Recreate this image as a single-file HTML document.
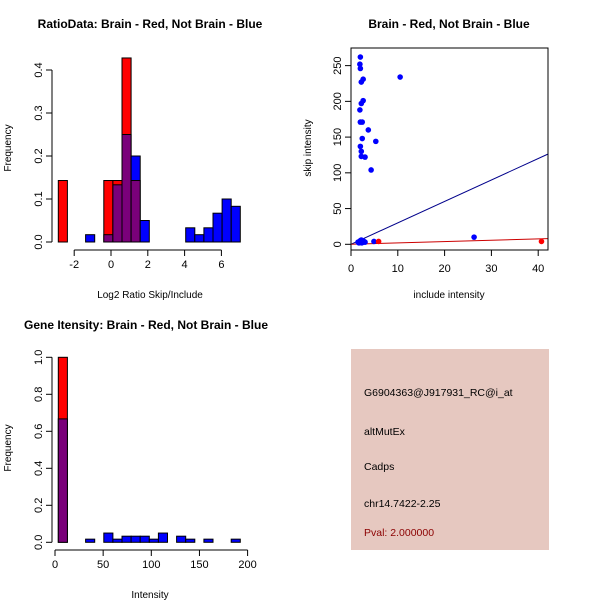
<!DOCTYPE html>
<html><head><meta charset="utf-8"><style>
body{margin:0;background:#fff;}
svg{display:block;font-family:"Liberation Sans",sans-serif;}
</style></head><body>
<svg id="c" width="600" height="600" xmlns="http://www.w3.org/2000/svg">
<rect width="600" height="600" fill="#fff"/>
</svg>
<script>
// ---- Panel 1: ratio histogram (bin index -> frequency)
const ratioBins = [0,1,2,3,4,5,6,7,8,9,10,11,12,13,14,15,16,17,18,19];
const ratioRed  = [0.143,0,0,0,0,0.143,0.143,0.428,0.143,0,0,0,0,0,0,0,0,0,0,0];
const ratioBlue = [0,0,0,0.017,0,0.017,0.133,0.25,0.2,0.05,0,0,0,0,0.033,0.017,0.033,0.067,0.1,0.083];
const ratioXTicks = [-2,0,2,4,6];
const ratioYTicks = [0,0.1,0.2,0.3,0.4];
// ---- Panel 2: scatter
const blueX = [2.0,1.9,2.0,2.6,2.2,10.5,2.6,2.2,1.9,2.0,2.4,3.7,2.4,5.3,2.0,2.2,2.2,3.0,4.3,26.3,4.9,1.5,1.8,2.0,2.2,2.5,2.8,3.0,1.7,2.3,2.6];
const blueY = [262,252,246,231,227,234,201,197,188,171,171,160,148,144,137,130,123,122,104,10,4,3,4,5,6,5,4,3,2,2,3];
const redX = [5.9,40.7];
const redY = [4,4];
const lineIntercepts = [0,0];
const lineSlopes = [3.0,0.19];
const lineColors = ["#00008b","#cc0000"];
const scatXTicks = [0,10,20,30,40];
const scatYTicks = [0,50,100,150,200,250];
// ---- Panel 3: intensity histogram
const intBins = [0,1,2,3,4,5,6,7,8,9,10,11,12,13,14,15,16,17,18,19];
const intRed  = [1.0,0,0,0,0,0,0,0,0,0,0,0,0,0,0,0,0,0,0,0];
const intBlue = [0.667,0,0,0.017,0,0.05,0.017,0.033,0.033,0.033,0.017,0.05,0,0.033,0.017,0,0.017,0,0,0.017];
const intXTicks = [0,50,100,150,200];
const intYTicks = [0,0.2,0.4,0.6,0.8,1.0];

const svg = document.getElementById('c');
const NS = "http://www.w3.org/2000/svg";
function mk(tag, attrs, parent){
  const e = document.createElementNS(NS, tag);
  for (const k in attrs) e.setAttribute(k, attrs[k]);
  (parent||svg).appendChild(e);
  return e;
}
function txt(s, x, y, opts, parent){
  const t = mk('text', Object.assign({x:x, y:y, 'font-size':11, fill:'#000'}, opts||{}), parent);
  t.textContent = s;
  return t;
}
const PURPLE = "#7a007a";

function histogram(g, bins, red, blue, x0, bw, yS, xTicks, xS, yTicks, yAxisX, xAxisY, xTickLabel, yTickLabel){
  bins.forEach(function(b, i){
    const r = red[i], bl = blue[i];
    const lx = x0 + b*bw;
    const hi = Math.max(r, bl), lo = Math.min(r, bl);
    if (hi > 0){
      const bar = mk('rect', {x:lx, y:yS(hi), width:bw, height:yS(0)-yS(hi), fill: r>=bl ? '#ff0000' : '#0000ff', stroke:'#000', 'stroke-width':1}, g);
      
      
    }
    if (lo > 0){
      const ov = mk('rect', {x:lx, y:yS(lo), width:bw, height:yS(0)-yS(lo), fill:PURPLE, stroke:'#000', 'stroke-width':1}, g);
      
      
    }
  });
  // y axis
  const ya = mk('g', {}, g);
  
  
  mk('line', {x1:yAxisX, x2:yAxisX, y1:yS(yTicks[0]), y2:yS(yTicks[yTicks.length-1]), stroke:'#000'}, ya);
  yTicks.forEach(function(v){
    const y = yS(v);
    mk('line', {x1:yAxisX-6, x2:yAxisX, y1:y, y2:y, stroke:'#000'}, ya);
    const t = txt(yTickLabel(v), yAxisX-10, y, {transform:'rotate(-90 '+(yAxisX-10)+' '+y+')', 'text-anchor':'middle'}, ya);
    
    
  });
  // x axis
  const xa = mk('g', {}, g);
  
  
  mk('line', {x1:xS(xTicks[0]), x2:xS(xTicks[xTicks.length-1]), y1:xAxisY, y2:xAxisY, stroke:'#000'}, xa);
  xTicks.forEach(function(v){
    const x = xS(v);
    mk('line', {x1:x, x2:x, y1:xAxisY, y2:xAxisY+6, stroke:'#000'}, xa);
    const t = txt(xTickLabel(v), x, xAxisY+18, {'text-anchor':'middle'}, xa);
    
    
  });
}

// Panel 1
const g1 = mk('g', {});


histogram(g1, ratioBins, ratioRed, ratioBlue, 58.3, 9.1,
  function(v){return 242 - v*430;}, ratioXTicks, function(v){return 111 + v*18.4;},
  ratioYTicks, 52, 250, function(v){return String(v);}, function(v){return v.toFixed(1);});
let t;
t = txt('RatioData: Brain - Red, Not Brain - Blue', 150, 28, {'text-anchor':'middle','font-weight':'bold','font-size':12}, g1);
 
t = txt('Log2 Ratio Skip/Include', 150, 298, {'text-anchor':'middle','font-size':10}, g1);
 
t = txt('Frequency', 11, 148, {'text-anchor':'middle','font-size':10, transform:'rotate(-90 11 148)'}, g1);
 

// Panel 2
const g2 = mk('g', {});


const sx = function(v){return 351 + v*4.68;};
const sy = function(v){return 244.3 - v*0.7147;};
const clip = mk('clipPath', {id:'sc'}, g2);
mk('rect', {x:351, y:48, width:197, height:202}, clip);
const lg = mk('g', {'clip-path':'url(#sc)'}, g2);
lineSlopes.forEach(function(s, i){
  const l = mk('line', {x1:sx(0), y1:sy(lineIntercepts[i]), x2:sx(42), y2:sy(lineIntercepts[i]+s*42), stroke:lineColors[i], 'stroke-width':1}, lg);
  
  
});
blueX.forEach(function(x, i){
  const c = mk('circle', {cx:sx(x), cy:sy(blueY[i]), r:2.8, fill:'#0000ff'}, lg);
  
  
});
redX.forEach(function(x, i){
  const c = mk('circle', {cx:sx(x), cy:sy(redY[i]), r:2.8, fill:'#ff0000'}, lg);
  
  
});
const box = mk('rect', {x:351, y:48, width:197, height:202, fill:'none', stroke:'#000'}, g2);
 
scatXTicks.forEach(function(v){
  mk('line', {x1:sx(v), x2:sx(v), y1:250, y2:256, stroke:'#000'}, g2);
  const tt = txt(String(v), sx(v), 272, {'text-anchor':'middle'}, g2);
   
});
scatYTicks.forEach(function(v){
  const y = sy(v);
  mk('line', {x1:345, x2:351, y1:y, y2:y, stroke:'#000'}, g2);
  const tt = txt(String(v), 341, y, {'text-anchor':'middle', transform:'rotate(-90 341 '+y+')'}, g2);
   
});
t = txt('Brain - Red, Not Brain - Blue', 449, 28, {'text-anchor':'middle','font-weight':'bold','font-size':12}, g2);
 
t = txt('include intensity', 449, 298, {'text-anchor':'middle','font-size':10}, g2);
 
t = txt('skip intensity', 311, 148, {'text-anchor':'middle','font-size':10, transform:'rotate(-90 311 148)'}, g2);
 

// Panel 3
const g3 = mk('g', {});


histogram(g3, intBins, intRed, intBlue, 58.3, 9.1,
  function(v){return 542.3 - v*185;}, intXTicks, function(v){return 55 + v*0.963;},
  intYTicks, 52, 550, function(v){return String(v);}, function(v){return v.toFixed(1);});
t = txt('Gene Itensity: Brain - Red, Not Brain - Blue', 146, 329, {'text-anchor':'middle','font-weight':'bold','font-size':12}, g3);
 
t = txt('Intensity', 150, 598, {'text-anchor':'middle','font-size':10}, g3);
 
t = txt('Frequency', 11, 448, {'text-anchor':'middle','font-size':10, transform:'rotate(-90 11 448)'}, g3);
 

// Info box
const g4 = mk('g', {});


mk('rect', {x:351, y:349, width:198, height:201, fill:'#e6c8c0'}, g4);
const infoLines = [['G6904363@J917931_RC@i_at',396,'#000','probe-id'],['altMutEx',435,'#000','event-type'],['Cadps',470,'#000','gene-name'],['chr14.7422-2.25',507,'#000','location'],['Pval: 2.000000',536,'#8b0000','p-value']];
infoLines.forEach(function(l){
  const tt = txt(l[0], 364, l[1], {'font-size':10.5, fill:l[2]}, g4);
  
  
});
</script>
</body></html>
